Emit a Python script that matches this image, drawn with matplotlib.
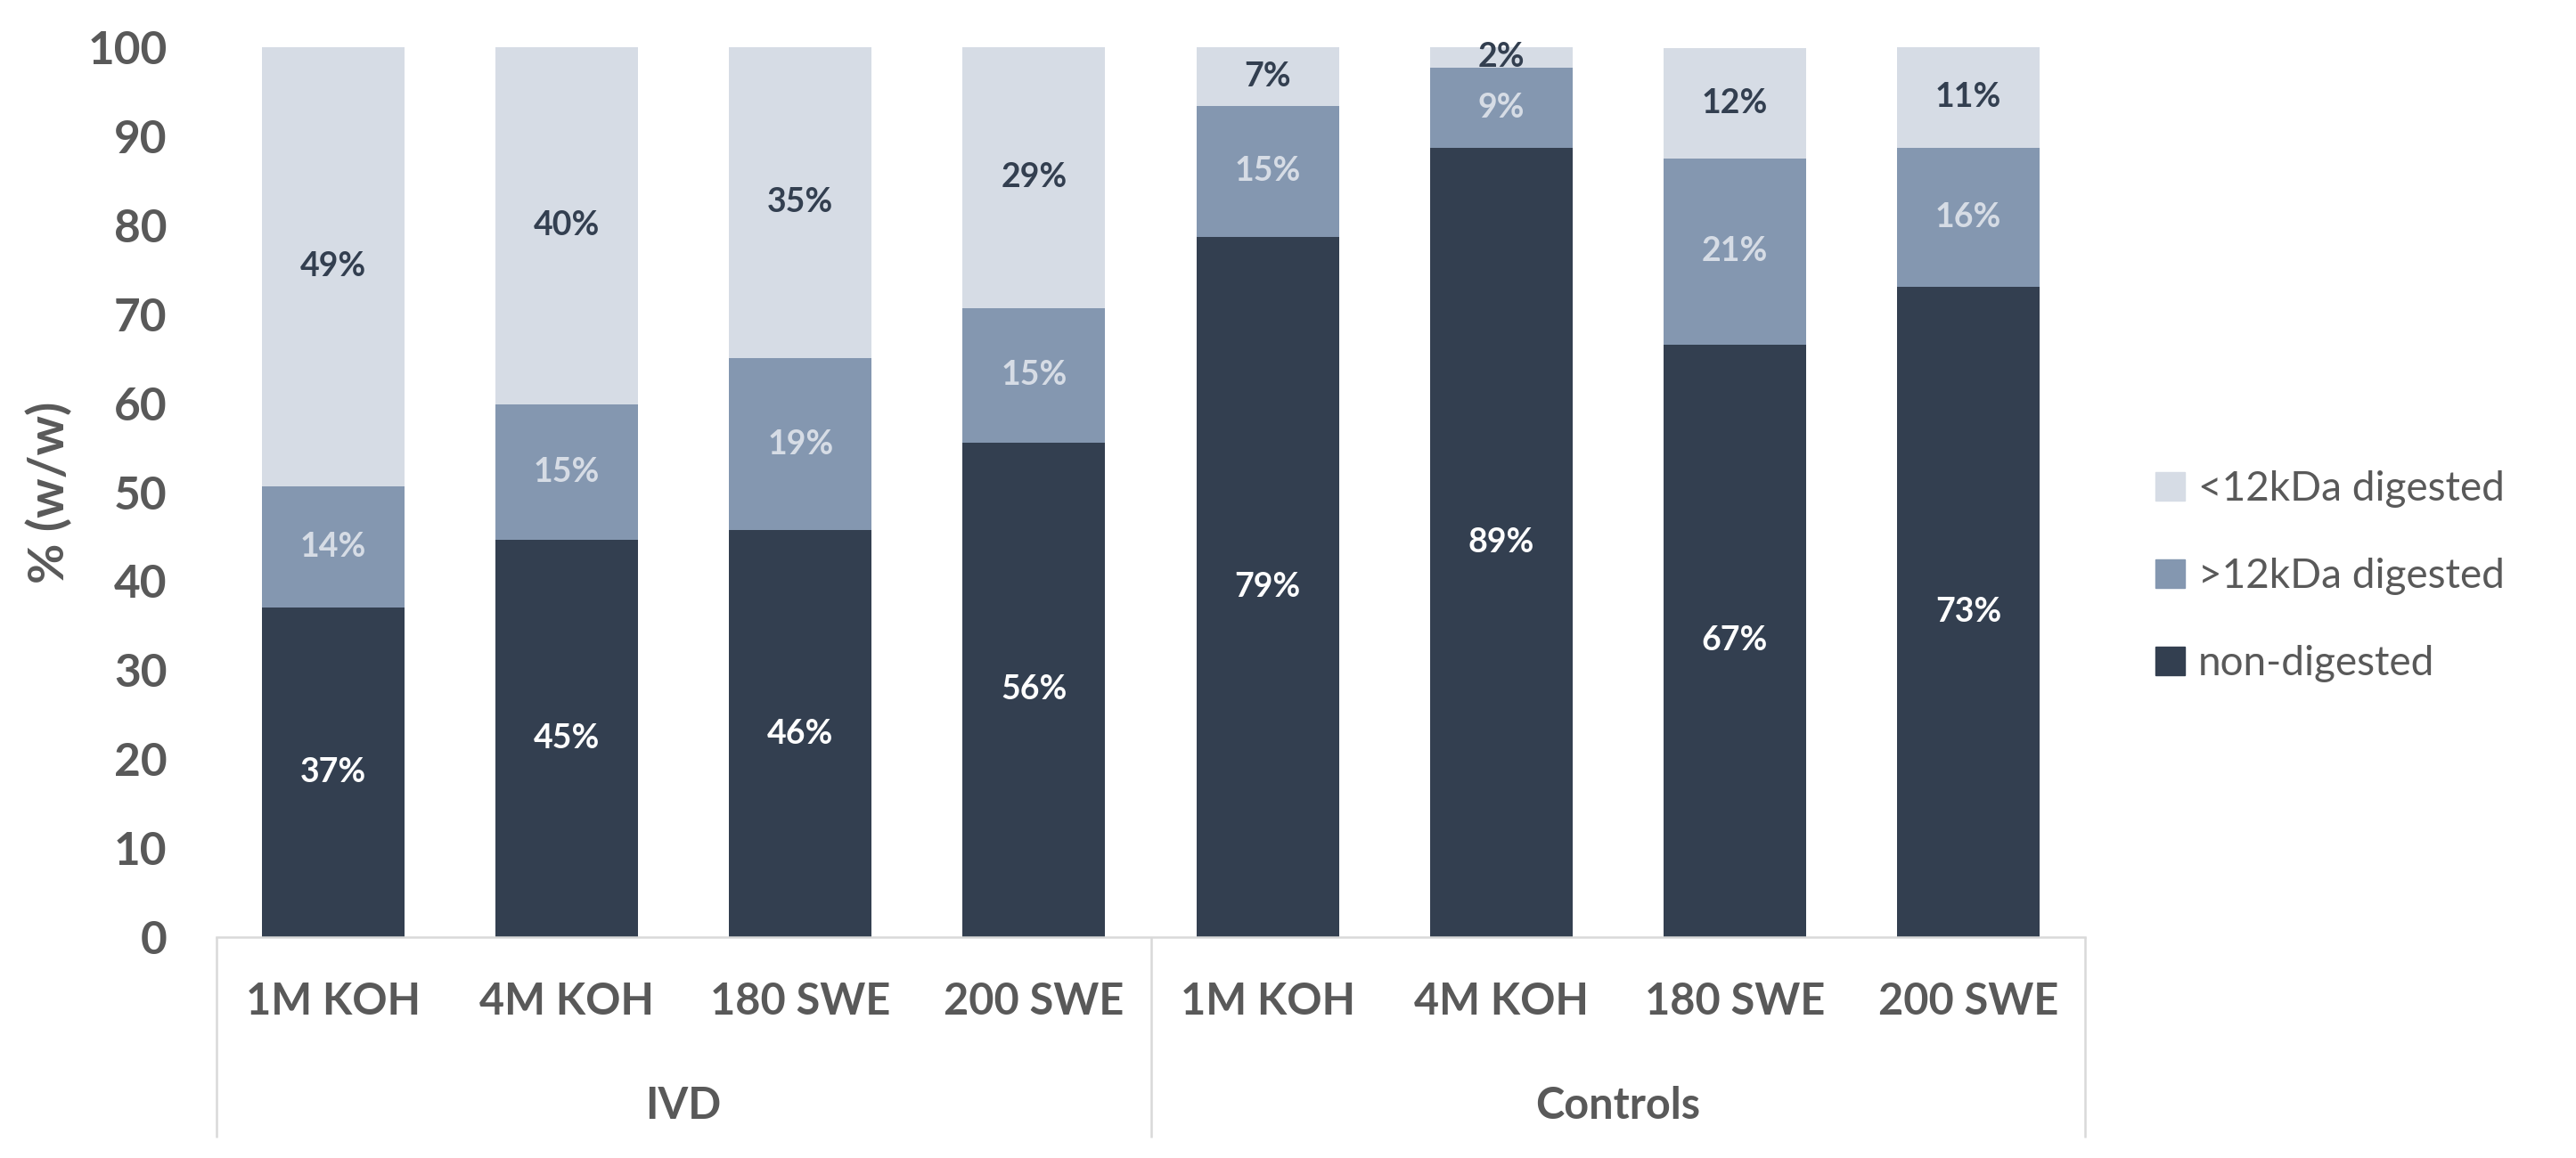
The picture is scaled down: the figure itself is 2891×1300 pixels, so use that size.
import matplotlib
matplotlib.use("Agg")
import matplotlib.pyplot as plt
import matplotlib.transforms as mtrans
from matplotlib.patches import Patch
import numpy as np

# ---- data ----
categories = ["1M KOH", "4M KOH", "180 SWE", "200 SWE",
              "1M KOH", "4M KOH", "180 SWE", "200 SWE"]
groups = ["IVD", "Controls"]
group_sizes = [4, 4]
non_digested = [37.0, 44.6, 45.7, 55.6, 78.7, 88.7, 66.6, 73.1]
above_12kda = [13.7, 15.3, 19.4, 15.1, 14.7, 9.0, 20.9, 15.6]
below_12kda = [49.3, 40.1, 34.9, 29.3, 6.6, 2.3, 12.4, 11.3]
series_names = ["non-digested", ">12kDa digested", "<12kDa digested"]
yticks = list(range(0, 101, 10))

# ---- style ----
plt.rcParams['font.family'] = ['Lato', 'DejaVu Sans']
GREY = '#595959'
DARK = '#333F50'
MID = '#8497B0'
LIGHT = '#D6DCE5'
AXLINE = '#D9D9D9'

W, H = 2891, 1300
fig = plt.figure(figsize=(W / 100, H / 100), dpi=100)
ax = fig.add_axes([243 / W, 248 / H, 2097 / W, 999 / H])

x = np.arange(len(categories))
nd = np.array(non_digested)
ab = np.array(above_12kda)
be = np.array(below_12kda)
width = 0.61

b1 = ax.bar(x, nd, width, color=DARK, label=series_names[0])
b2 = ax.bar(x, ab, width, bottom=nd, color=MID, label=series_names[1])
b3 = ax.bar(x, be, width, bottom=nd + ab, color=LIGHT, label=series_names[2])

for bars, vals, col in [(b1, nd, 'white'), (b2, ab, LIGHT), (b3, be, DARK)]:
    ax.bar_label(bars, labels=[f"{v:.0f}%" for v in vals], label_type='center',
                 color=col, fontsize=27, fontweight='bold')

ax.set_xlim(-0.5, len(categories) - 0.5)
ax.set_ylim(0, 100)
ax.set_yticks(yticks)
ax.tick_params(axis='y', length=0, pad=40, labelsize=37, labelcolor=GREY)
for lab in ax.get_yticklabels():
    lab.set_fontweight('bold')

ax.set_xticks(x, categories)
ax.tick_params(axis='x', length=0, pad=36, labelsize=35, labelcolor=GREY)
for lab in ax.get_xticklabels():
    lab.set_fontweight('bold')

for s in ['left', 'right', 'top']:
    ax.spines[s].set_visible(False)
ax.spines['bottom'].set_color(AXLINE)
ax.spines['bottom'].set_linewidth(1.8)

# group labels and separators
trans = mtrans.blended_transform_factory(ax.transData, ax.transAxes)
edges = np.concatenate([[0], np.cumsum(group_sizes)]) - 0.5
for xe in edges:
    ax.plot([xe, xe], [0, -0.225], transform=trans, clip_on=False,
            color=AXLINE, lw=1.8, solid_capstyle='butt')
for g, lo, hi in zip(groups, edges[:-1], edges[1:]):
    ax.text((lo + hi) / 2, -0.2047, g, transform=trans, ha='center', va='baseline',
            fontsize=35, fontweight='bold', color=GREY)

fig.text(55 / W, 1 - 553 / H, "% (w/w)", rotation=90, ha='center', va='center',
         fontsize=40, fontweight='bold', color=GREY)

handles = [Patch(color=LIGHT), Patch(color=MID), Patch(color=DARK)]
fig.legend(handles, series_names[::-1], loc='center left',
           bbox_to_anchor=(2419 / W, 1 - 647 / H), frameon=False,
           fontsize=33, labelcolor=GREY, handlelength=0.72, handleheight=0.7,
           handletextpad=0.33, labelspacing=1.23, borderaxespad=0, borderpad=0)

fig.savefig('out.png', dpi=100)
